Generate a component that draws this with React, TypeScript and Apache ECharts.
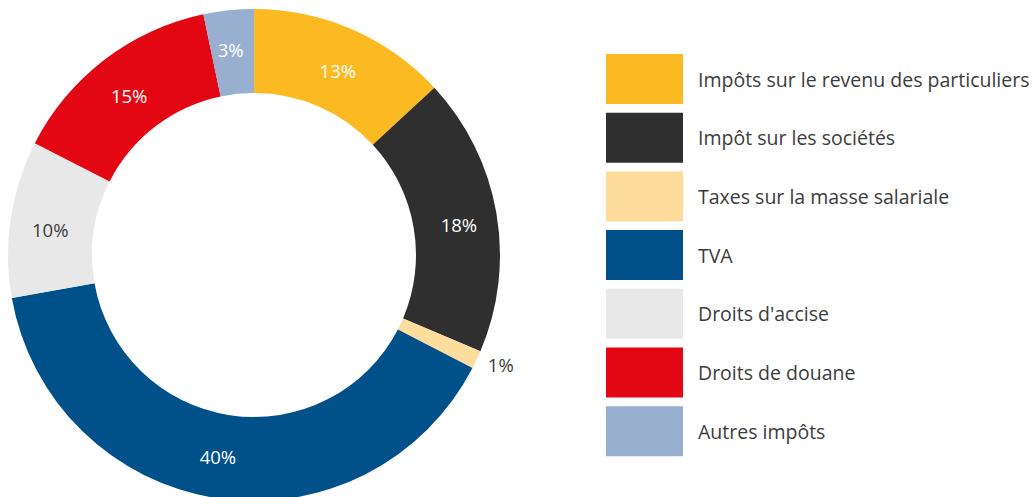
import React, { useEffect, useRef } from "react";
import * as echarts from "echarts";

const categories = [
  "Impôts sur le revenu des particuliers",
  "Impôt sur les sociétés",
  "Taxes sur la masse salariale",
  "TVA",
  "Droits d'accise",
  "Droits de douane",
  "Autres impôts",
];
// shares
const values = [13.1, 18.3, 1.2, 39.6, 10.3, 14.2, 3.3];
// percentages printed on the chart
const percentLabels = ["13%", "18%", "1%", "40%", "10%", "15%", "3%"];
const colors = ["#FBBA22", "#2F2F2F", "#FEDC9C", "#00508A", "#E8E8E8", "#E30613", "#99AFD0"];
const labelColors = ["#FFFFFF", "#FFFFFF", "#3C3C3C", "#FFFFFF", "#3C3C3C", "#FFFFFF", "#FFFFFF"];

const FONT = "'Open Sans', sans-serif";

export default function App() {
  const ref = useRef<HTMLDivElement>(null);
  useEffect(() => {
    if (!ref.current) return;
    const chart = echarts.init(ref.current, null, { renderer: "svg" });
    chart.setOption({
      animation: false,
      backgroundColor: "#FFFFFF",
      legend: {
        orient: "vertical",
        left: 606,
        top: 54,
        padding: 0,
        itemWidth: 77,
        itemHeight: 50,
        itemGap: 8.7,
        icon: "rect",
        selectedMode: false,
        data: categories,
        textStyle: {
          fontFamily: FONT,
          fontSize: 19.5,
          color: "#3C3C3C",
          padding: [0, 0, 0, 10],
        },
      },
      series: [
        {
          type: "pie",
          center: [254, 255],
          radius: [162, 246],
          startAngle: 90,
          clockwise: true,
          avoidLabelOverlap: false,
          label: {
            show: true,
            position: "inside",
            formatter: (p: any) => percentLabels[p.dataIndex],
            fontFamily: FONT,
            fontSize: 18.5,
          },
          labelLine: { show: false },
          labelLayout: (params: any) => {
            const i = params.dataIndex;
            if (i === 2) return { dx: 4, dy: 1 };
            if (i === 3) return { dx: -5, dy: -3 };
            if (i === 6) return { dx: -2, dy: 0 };
            return { dx: 1, dy: 5 };
          },
          emphasis: { disabled: true },
          data: categories.map((name, i) => ({
            name,
            value: values[i],
            itemStyle: { color: colors[i] },
            label:
              i === 2
                ? {
                    position: "outside",
                    color: "#3C3C3C",
                    distanceToLabelLine: 0,
                  }
                : { color: labelColors[i] },
            labelLine: i === 2 ? { show: false, length: 8, length2: 0 } : undefined,
          })),
        },
      ],
    });
    return () => chart.dispose();
  }, []);
  return (
    <div
      ref={ref}
      style={{ position: "fixed", left: 0, top: 0, width: 1035, height: 497 }}
    />
  );
}
